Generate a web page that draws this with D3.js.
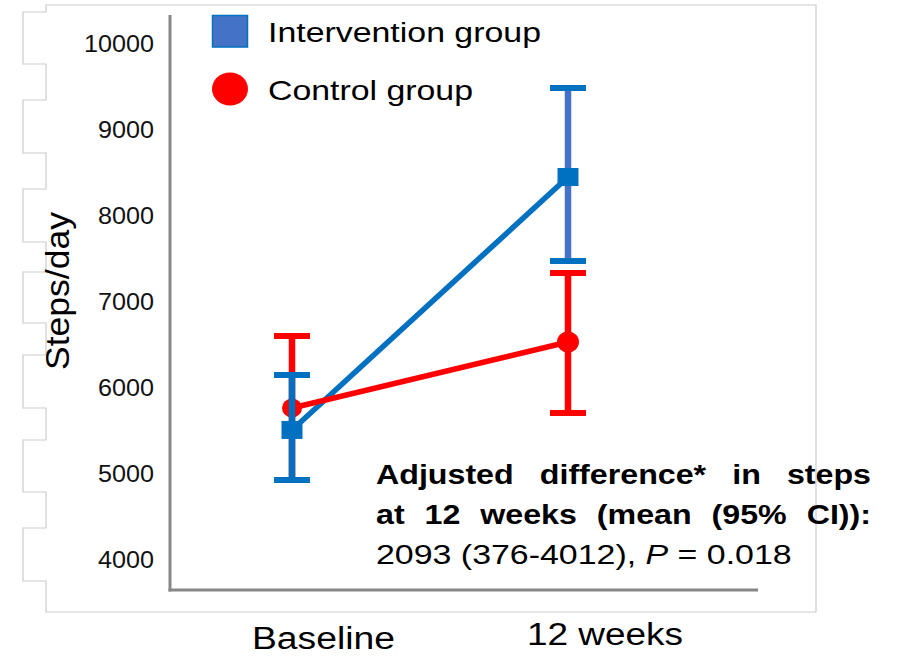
<!DOCTYPE html>
<html>
<head>
<meta charset="utf-8">
<script src="https://cdn.jsdelivr.net/npm/d3@7"></script>
<style>
  html, body { margin: 0; padding: 0; background: #fff; }
  svg { display: block; }
  text { font-family: "Liberation Sans", Arial, sans-serif; }
</style>
</head>
<body>
<svg id="chart" width="899" height="657"></svg>
<script>
// ---- data ----
const categories = ["Baseline", "12 weeks"];
const interventionMean = [5512, 8453];
const interventionLow  = [4930, 7477];
const interventionHigh = [6151, 9488];
const controlMean = [5767, 6535];
const controlLow  = [4929, 5709];
const controlHigh = [6605, 7337];
const yTicks = [4000, 5000, 6000, 7000, 8000, 9000, 10000];
const legendLabels = ["Intervention group", "Control group"];
const yAxisTitle = "Steps/day";
const noteBold = ["Adjusted difference* in steps", "at 12 weeks (mean (95% CI)):"];
const noteStats = ["2093 (376-4012), ", "P", " = 0.018"];

const BLUE = "#0070C0", BLUE2 = "#4472C4", RED = "#FF0000", AXIS = "#878787", FRAME = "#cccccc";

const svg = d3.select("#chart");

// decorative frame with notched left edge
svg.append("path")
  .attr("d", "M816,5 H46 V12 H23 V64 H46 V100 H23 V153 H46 V189 H23 V242 H46 V272 H23 V323 H46 V355 H23 V408 H46 V440 H23 V492 H46 V528 H23 V581 H46 V612 H816 Z")
  .attr("fill", "none").attr("stroke", FRAME).attr("stroke-width", 1.2);

// scales
const y = d3.scaleLinear().domain([3651, 10337]).range([590, 15]);
const x = d3.scalePoint().domain(categories).range([292, 568]);

// y axis labels
const yAxis = d3.axisLeft(y).tickValues(yTicks).tickSize(0).tickPadding(16).tickFormat(d3.format("d"));
const ya = svg.append("g").attr("transform", "translate(170,0)").call(yAxis);
ya.select(".domain").remove();
ya.selectAll("text").attr("font-size", 23.5).attr("fill", "#111")
  .style("font-family", "'Liberation Sans', Arial, sans-serif")
  .attr("textLength", function(d){ return String(d).length * 14; })
  .attr("lengthAdjust", "spacingAndGlyphs");

// axis lines
svg.append("line").attr("x1", 170).attr("x2", 170).attr("y1", y.range()[1]).attr("y2", y.range()[0] + 1.5)
  .attr("stroke", AXIS).attr("stroke-width", 3);
svg.append("line").attr("x1", 168.5).attr("x2", 758).attr("y1", 590).attr("y2", 590)
  .attr("stroke", AXIS).attr("stroke-width", 3);

// y title
svg.append("text").attr("transform", "translate(69,291) rotate(-90)")
  .attr("text-anchor", "middle").attr("font-size", 34).attr("fill", "#000")
  .attr("textLength", 158).attr("lengthAdjust", "spacingAndGlyphs")
  .text(yAxisTitle);

// x category labels
const catLabelPos = [{y: 649, w: 143}, {y: 645, w: 156}];
svg.selectAll("text.cat").data(categories).join("text").attr("class", "cat")
  .attr("x", (d, i) => x(d) + (i === 0 ? -40 : -41))
  .attr("y", (d, i) => catLabelPos[i].y)
  .attr("font-size", 31).attr("fill", "#000")
  .attr("textLength", (d, i) => catLabelPos[i].w).attr("lengthAdjust", "spacingAndGlyphs")
  .text(d => d);

// series data
const inter = categories.map((c, i) => ({c, m: interventionMean[i], lo: interventionLow[i], hi: interventionHigh[i]}));
const ctrl = categories.map((c, i) => ({c, m: controlMean[i], lo: controlLow[i], hi: controlHigh[i]}));
const line = d3.line().x(d => x(d.c)).y(d => y(d.m));

// blue line
svg.append("path").datum(inter).attr("d", line).attr("fill", "none").attr("stroke", BLUE).attr("stroke-width", 5.5);

function errorBars(data, vcol, ccol) {
  const g = svg.append("g");
  g.selectAll("line.v").data(data).join("line")
    .attr("x1", d => x(d.c)).attr("x2", d => x(d.c)).attr("y1", d => y(d.hi)).attr("y2", d => y(d.lo))
    .attr("stroke", (d, i) => vcol[i]).attr("stroke-width", 6.5);
  ["hi", "lo"].forEach(k => {
    g.selectAll("line.c" + k).data(data).join("line")
      .attr("x1", d => x(d.c) - 18).attr("x2", d => x(d.c) + 18).attr("y1", d => y(d[k])).attr("y2", d => y(d[k]))
      .attr("stroke", ccol).attr("stroke-width", 6);
  });
}

// red error bars, line, circles
errorBars(ctrl, [RED, RED], RED);
svg.append("path").datum(ctrl).attr("d", line).attr("fill", "none").attr("stroke", RED).attr("stroke-width", 5.5);
svg.selectAll("ellipse.ctrl").data(ctrl).join("ellipse")
  .attr("cx", d => x(d.c)).attr("cy", d => y(d.m)).attr("rx", (d, i) => i ? 11 : 10).attr("ry", (d, i) => i ? 10.5 : 9.5)
  .attr("fill", RED);

// blue error bars and squares
errorBars(inter, [BLUE, BLUE2], BLUE);
svg.selectAll("rect.inter").data(inter).join("rect")
  .attr("x", d => x(d.c) - 10.5).attr("y", d => y(d.m) - 9).attr("width", 21).attr("height", 18)
  .attr("fill", BLUE);

// legend
svg.append("rect").attr("x", 212.5).attr("y", 15.5).attr("width", 35).attr("height", 31.5)
  .attr("fill", BLUE2).attr("stroke", BLUE).attr("stroke-width", 1.5);
svg.append("ellipse").attr("cx", 230).attr("cy", 89).attr("rx", 18).attr("ry", 16.5).attr("fill", RED);
svg.append("text").attr("x", 268).attr("y", 42).attr("font-size", 27.5).attr("fill", "#000")
  .attr("textLength", 273).attr("lengthAdjust", "spacingAndGlyphs").text(legendLabels[0]);
svg.append("text").attr("x", 268).attr("y", 100).attr("font-size", 28.5).attr("fill", "#000")
  .attr("textLength", 205).attr("lengthAdjust", "spacingAndGlyphs").text(legendLabels[1]);

// justified bold annotation
function justify(str, x0, x1, base, fs, sx) {
  const words = str.split(" ");
  const g = svg.append("g").attr("transform", `translate(${x0},${base}) scale(${sx},1)`);
  const ts = words.map(w => g.append("text").attr("font-size", fs).attr("font-weight", "bold").attr("fill", "#000").text(w));
  const widths = ts.map(t => t.node().getComputedTextLength());
  const total = d3.sum(widths);
  const gap = ((x1 - x0) / sx - total) / (words.length - 1);
  let cx = 0;
  ts.forEach((t, i) => { t.attr("x", cx); cx += widths[i] + gap; });
}
justify(noteBold[0], 376, 871, 484, 28.5, 1.13);
justify(noteBold[1], 376, 871, 524, 28.5, 1.13);

const stats = svg.append("text").attr("transform", "translate(376,564) scale(1.19,1)")
  .attr("font-size", 28.5).attr("fill", "#000");
stats.append("tspan").text(noteStats[0]);
stats.append("tspan").attr("font-style", "italic").text(noteStats[1]);
stats.append("tspan").text(noteStats[2]);
</script>
</body>
</html>
